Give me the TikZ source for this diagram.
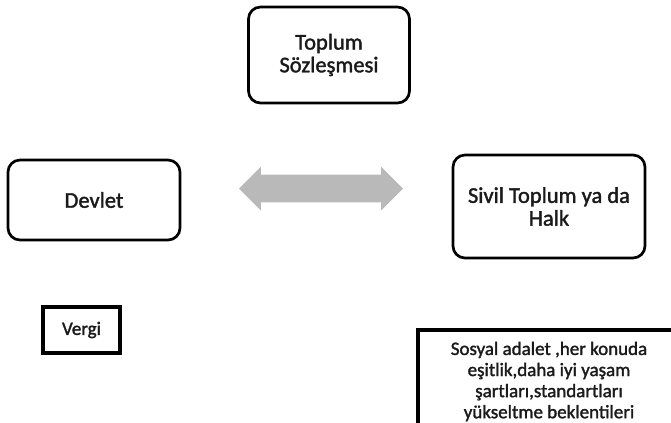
\documentclass[tikz,border=0pt]{standalone}
\usepackage{fontspec}
\setmainfont{Carlito}
\newfontfamily\orta{Carlito}[FakeBold=1.6]
\usetikzlibrary{positioning,shapes.arrows}
\definecolor{okgri}{HTML}{B9B9B9}
\definecolor{yazi}{HTML}{1A1A1A}
\tikzset{
  kutu/.style={draw=black, line width=1.9pt, rounded corners=0.3cm, align=center,
    text=yazi, font=\orta\fontsize{16}{16.2}\selectfont},
  yazi/.style={align=center, text=yazi, font=\orta\fontsize{13.5}{15}\selectfont},
  kare/.style={draw=black, line width=2.2pt}
}
\begin{document}
\begin{tikzpicture}
    \useasboundingbox (0,0) rectangle (16.775,-10.55);
    \clip (0,0) rectangle (16.775,-10.55);
    \node[kutu, minimum width=4.025cm, minimum height=2.4cm] (sozlesme) at (8.225,-1.375) {Toplum\\Sözleşmesi};
    \node[kutu, minimum width=4.3cm, minimum height=2.0cm] (devlet) at (2.35,-5.0) {Devlet};
    \node[kutu, minimum width=4.8cm, minimum height=2.575cm] (sivil) at (13.725,-5.1625) {Sivil Toplum ya da\\Halk};
    \node[double arrow, fill=okgri, inner xsep=0pt, inner ysep=0.3375cm, minimum height=4.1cm,
      double arrow head extend=0.2cm] (ok) at (8.025,-4.7125) {};
    \node[kare, yazi, minimum width=1.925cm, minimum height=1.15cm] (vergi) at (2.0375,-8.25) {Vergi};
    % alt kutu, resmin kenarinda kesiliyor
    \draw[kare] (10.45,-11) rectangle (17,-8.25);
    \node[yazi, anchor=north] (beklenti) at (13.725,-8.42)
      {Sosyal adalet ,her konuda\\eşitlik,daha iyi yaşam\\şartları,standartları\\yükseltme beklentileri};
\end{tikzpicture}
\end{document}
